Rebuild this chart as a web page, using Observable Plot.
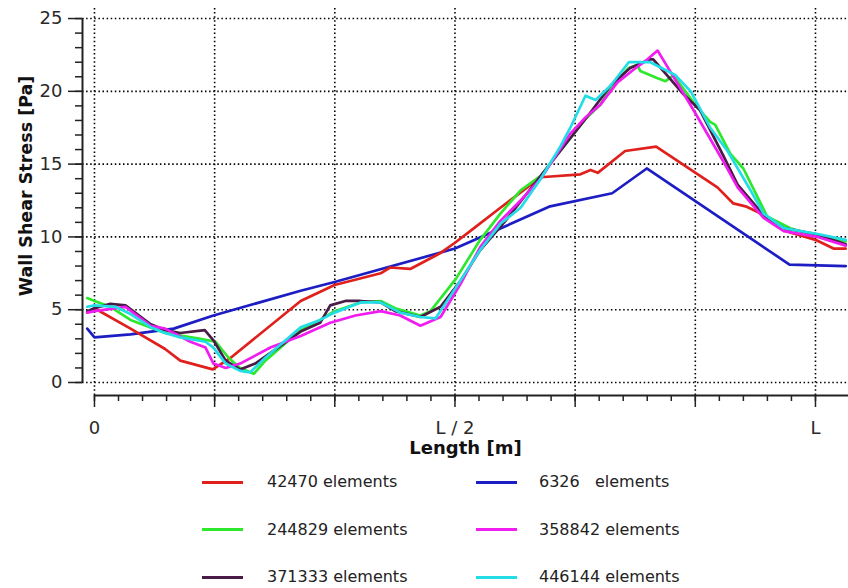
<!DOCTYPE html>
<html>
<head>
<meta charset="utf-8">
<script src="https://cdn.jsdelivr.net/npm/d3@7"></script>
<script src="https://cdn.jsdelivr.net/npm/@observablehq/plot@0.6"></script>
<style>
  html, body { margin: 0; padding: 0; background: #fff; }
  #chart svg { display: block; }
  #legend { position: relative; width: 848px; height: 122px; font-family: "DejaVu Sans", sans-serif; font-size: 16px; color: #222; }
  .sw { position: absolute; width: 41px; height: 3px; }
  .lt { position: absolute; white-space: pre; line-height: 20px; }
</style>
</head>
<body>
<div id="chart"></div>
<div id="legend"></div>
<script>
// ---- Data (x in units of L, y in Pa) ----
const seriesNames = ["42470 elements", "6326   elements", "244829 elements", "358842 elements", "371333 elements", "446144 elements"];
const seriesColors = ["#e0201c", "#1d1dc4", "#2ee82e", "#f01cf0", "#4b1b48", "#22dde6"];

const x42470 = [-0.01,0,0.05,0.098,0.119,0.164,0.189,0.286,0.333,0.397,0.41,0.438,0.48,0.5,0.521,0.563,0.619,0.674,0.688,0.698,0.736,0.779,0.84,0.864,0.886,0.903,0.933,0.965,1.0,1.025,1.042];
const y42470 = [4.8,5.1,3.7,2.3,1.5,0.9,1.7,5.6,6.7,7.5,7.9,7.8,8.9,9.6,10.4,12.0,14.1,14.3,14.6,14.4,15.9,16.2,14.2,13.4,12.3,12.1,11.4,10.3,9.8,9.2,9.2];

const x6326 = [-0.01,0,0.05,0.11,0.165,0.286,0.333,0.5,0.632,0.718,0.766,0.964,1.042];
const y6326 = [3.7,3.1,3.3,3.7,4.6,6.3,6.9,9.2,12.1,13.0,14.7,8.1,8.0];

const x244829 = [-0.01,0,0.022,0.05,0.098,0.147,0.168,0.186,0.202,0.221,0.237,0.286,0.313,0.333,0.369,0.397,0.417,0.452,0.466,0.501,0.535,0.563,0.591,0.619,0.646,0.681,0.702,0.716,0.741,0.753,0.757,0.781,0.792,0.803,0.836,0.854,0.861,0.882,0.9,0.933,0.965,1.0,1.042];
const y244829 = [5.8,5.6,5.2,4.3,3.4,3.0,2.8,1.7,1.0,0.6,1.5,3.6,4.3,4.9,5.5,5.6,5.1,4.6,4.9,7.1,9.8,11.6,13.2,14.2,15.9,18.1,19.1,20.3,21.6,21.8,21.4,20.9,20.7,21.1,18.9,17.9,17.7,15.7,14.7,11.4,10.6,10.1,9.7];

const x358842 = [-0.01,0,0.043,0.078,0.098,0.133,0.154,0.165,0.182,0.202,0.244,0.286,0.327,0.362,0.397,0.424,0.452,0.48,0.508,0.535,0.563,0.591,0.619,0.66,0.681,0.702,0.725,0.748,0.767,0.781,0.792,0.831,0.872,0.892,0.928,0.956,1.003,1.042];
const y358842 = [4.8,4.9,5.2,3.9,3.7,2.8,2.4,1.3,1.0,1.3,2.4,3.2,4.1,4.6,4.9,4.6,3.9,4.5,6.8,9.3,11.1,12.5,14.0,17.1,18.2,19.1,20.6,21.5,22.2,22.8,21.9,18.7,15.2,13.4,11.3,10.4,10.0,9.4];

const x371333 = [-0.01,0,0.022,0.043,0.078,0.098,0.119,0.153,0.165,0.182,0.202,0.223,0.286,0.313,0.327,0.348,0.369,0.397,0.417,0.452,0.48,0.508,0.535,0.57,0.619,0.646,0.681,0.716,0.743,0.771,0.775,0.817,0.84,0.872,0.892,0.928,0.956,1.0,1.042];
const y371333 = [4.9,5.1,5.4,5.3,4.0,3.6,3.4,3.6,2.9,1.5,0.9,1.3,3.5,4.1,5.3,5.6,5.6,5.5,4.9,4.5,5.2,7.0,9.1,11.1,14.2,15.9,18.1,20.4,21.6,22.2,22.2,19.8,18.7,15.6,13.6,11.5,10.6,10.2,9.5];

const x446144 = [-0.01,0,0.029,0.05,0.078,0.098,0.119,0.154,0.165,0.182,0.202,0.216,0.237,0.286,0.313,0.333,0.369,0.397,0.424,0.452,0.473,0.501,0.535,0.563,0.591,0.619,0.646,0.66,0.681,0.695,0.716,0.741,0.771,0.806,0.827,0.854,0.878,0.91,0.928,0.956,1.003,1.042];
const y446144 = [5.2,5.3,5.2,4.7,3.8,3.4,3.1,2.8,2.4,1.3,0.8,0.7,1.7,3.8,4.3,4.8,5.5,5.5,4.8,4.5,4.4,6.5,9.1,10.9,12.0,14.0,16.2,17.5,19.7,19.4,20.4,22.0,22.0,21.1,20.0,17.5,15.9,13.2,11.6,10.6,10.2,9.8];

// ---- Axis ticks ----
const xDomain = [-0.0166, 1.0458];
const yDomain = [-0.893, 25.69];
const xMajorTicks = [0, 0.16667, 0.33333, 0.5, 0.66667, 0.83333, 1];
const xMinorTicks = d3.range(0, 31).map(i => i / 30);
const xLabelTicks = [0, 0.5, 1];
const xLabelTexts = ["0", "L / 2", "L"];
const yMajorTicks = [0, 5, 10, 15, 20, 25];
const yMinorTicks = d3.range(0, 26);
const xTitle = "Length [m]";
const yTitle = "Wall Shear Stress [Pa]";

// draw order (back to front)
const drawOrder = [1, 0, 2, 4, 3, 5];
const xs = [x42470, x6326, x244829, x358842, x371333, x446144];
const ys = [y42470, y6326, y244829, y358842, y371333, y446144];

const lineMarks = drawOrder.map(k => {
  const pts = xs[k].map((x, i) => ({x, y: ys[k][i]}));
  return Plot.line(pts, {x: "x", y: "y", stroke: seriesColors[k], strokeWidth: 2.7, strokeLinejoin: "round"});
});

const gridStyle = {stroke: "#000", strokeOpacity: 1, strokeWidth: 1.6, strokeDasharray: "1.5,2.6"};
const font = "DejaVu Sans, sans-serif";

const chart = Plot.plot({
  width: 848,
  height: 466,
  marginLeft: 82,
  marginRight: 0,
  marginTop: 8,
  marginBottom: 71,
  style: {fontFamily: font, fontSize: "18px", color: "#2a2a2a", background: "#fff"},
  x: {domain: xDomain, label: null},
  y: {domain: yDomain, label: null},
  marks: [
    Plot.gridY(yMajorTicks, gridStyle),
    Plot.gridX(xMajorTicks, gridStyle),
    Plot.axisY(yMinorTicks, {tickSize: 7, tickFormat: () => "", label: null, strokeWidth: 1.5, stroke: "#222"}),
    Plot.axisY(yMajorTicks, {tickSize: 14, tickPadding: 6, label: null, fontSize: 18, strokeWidth: 1.5, stroke: "#222", fill: "#2a2a2a"}),
    Plot.axisX(xMinorTicks, {tickSize: 6, tickFormat: () => "", label: null, strokeWidth: 1.5, stroke: "#222"}),
    Plot.axisX(xMajorTicks, {tickSize: 12, tickFormat: () => "", label: null, strokeWidth: 1.5, stroke: "#222"}),
    Plot.axisX(xLabelTicks, {tickSize: 0, tickPadding: 26, label: null, fontSize: 18, fill: "#2a2a2a",
      tickFormat: d => xLabelTexts[xLabelTicks.indexOf(d)]}),
    Plot.ruleX([xDomain[0]], {y1: yMajorTicks[0], y2: yMajorTicks[yMajorTicks.length - 1], stroke: "#222", strokeWidth: 2}),
    Plot.ruleY([yDomain[0]], {x1: xMajorTicks[0], x2: xDomain[1], stroke: "#222", strokeWidth: 2}),
    ...lineMarks,
    Plot.text([xTitle], {frameAnchor: "bottom", dy: 58, fontWeight: "bold", fontSize: 18, fill: "#111", fontFamily: font}),
    Plot.text([yTitle], {frameAnchor: "left", textAnchor: "middle", rotate: -90, dx: -56, dy: -16, fontWeight: "bold", fontSize: 17.5, fill: "#111", fontFamily: font})
  ]
});
document.getElementById("chart").appendChild(chart);

// ---- Legend ----
const legend = document.getElementById("legend");
const legendOrder = [0, 1, 2, 3, 4, 5];
const colSwatchX = [202, 476];
const colTextX = [267, 539];
legendOrder.forEach((k, i) => {
  const row = Math.floor(i / 2), col = i % 2;
  const cy = 16 + row * 47.5;
  const sw = document.createElement("div");
  sw.className = "sw";
  sw.style.left = colSwatchX[col] + "px";
  sw.style.top = (cy - 1.5) + "px";
  sw.style.background = seriesColors[k];
  legend.appendChild(sw);
  const t = document.createElement("div");
  t.className = "lt";
  t.style.left = colTextX[col] + "px";
  t.style.top = (cy - 10) + "px";
  t.textContent = seriesNames[k];
  legend.appendChild(t);
});
</script>
</body>
</html>
